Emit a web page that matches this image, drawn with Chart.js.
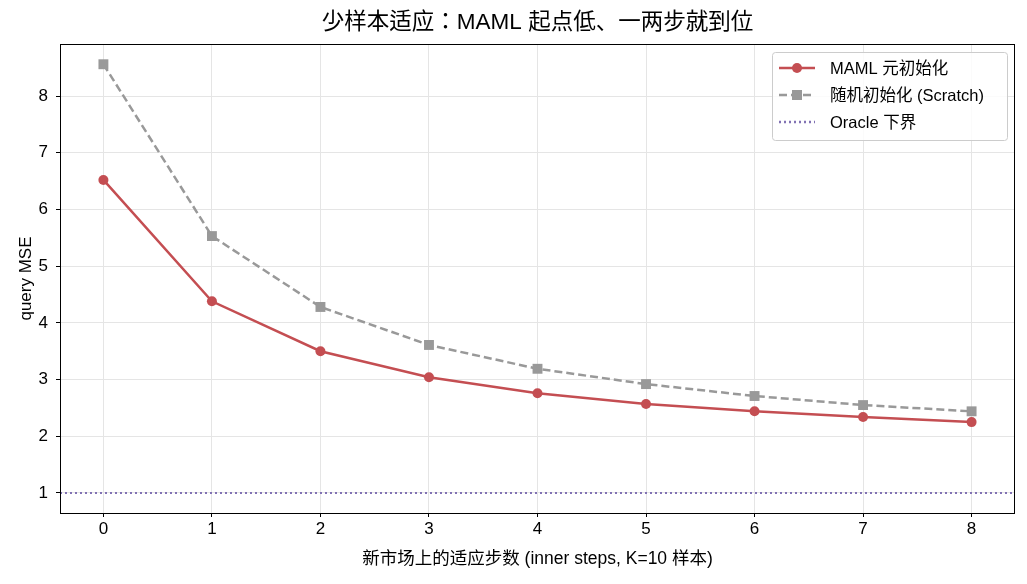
<!DOCTYPE html>
<html>
<head>
<meta charset="utf-8">
<script src="https://cdn.jsdelivr.net/npm/chart.js@4.4.0/dist/chart.umd.min.js"></script>
<style>
  html, body { margin: 0; padding: 0; background: #fff; }
  #wrap { width: 1027px; height: 584px; }
</style>
</head>
<body>
<div id="wrap"><canvas id="chart" width="1027" height="584"></canvas></div>
<script>
const steps = [0, 1, 2, 3, 4, 5, 6, 7, 8];
const mamlMse = [6.52, 4.38, 3.50, 3.04, 2.76, 2.57, 2.44, 2.34, 2.25];
const scratchMse = [8.56, 5.53, 4.28, 3.61, 3.19, 2.92, 2.71, 2.55, 2.44];
const oracleMse = 1.0;
const xTicks = [0, 1, 2, 3, 4, 5, 6, 7, 8];
const yTicks = [1, 2, 3, 4, 5, 6, 7, 8];
const chartTitle = '少样本适应：MAML 起点低、一两步就到位';

const FONT = '"Liberation Sans", Arial, "Noto Sans CJK SC", sans-serif';
const TITLE_FONT = '"Liberation Sans", Arial, "Noto Sans CJK JP", sans-serif';
const RED = '#c44e52';
const GRAY = '#999999';
const PURPLE = '#8172b3';

const legendItems = [
    { label: 'MAML 元初始化', color: RED, dash: [], marker: 'circle' },
    { label: '随机初始化 (Scratch)', color: GRAY, dash: [8, 4], marker: 'rect' },
    { label: 'Oracle 下界', color: PURPLE, dash: [2, 3], marker: null }
];

// title centred over the axes, frame around plot, legend box in the upper right
const framePlugin = {
    id: 'frame',
    afterDraw(chart) {
        const { ctx, chartArea: a } = chart;
        ctx.save();
        ctx.fillStyle = '#000';
        ctx.font = '22.5px ' + TITLE_FONT;
        ctx.textAlign = 'center';
        ctx.textBaseline = 'middle';
        ctx.fillText(chartTitle, (a.left + a.right) / 2, 23);
        ctx.textAlign = 'left';

        ctx.strokeStyle = '#000';
        ctx.lineWidth = 1;
        ctx.strokeRect(Math.round(a.left) + 0.5, Math.round(a.top) + 0.5,
            Math.round(a.right - a.left) - 1, Math.round(a.bottom - a.top));

        const bw = 235, bh = 88;
        const bx = a.right - 8 - bw, by = a.top + 8;
        ctx.fillStyle = 'rgba(255,255,255,0.85)';
        ctx.strokeStyle = '#cccccc';
        ctx.beginPath();
        ctx.roundRect(bx + 0.5, by + 0.5, bw, bh, 3);
        ctx.fill();
        ctx.stroke();

        ctx.font = '16.5px ' + FONT;
        legendItems.forEach((it, i) => {
            const y = by + 16 + i * 27;
            const x0 = bx + 7, x1 = bx + 43;
            ctx.strokeStyle = it.color;
            ctx.lineWidth = 2.5;
            ctx.setLineDash(it.dash);
            ctx.beginPath();
            ctx.moveTo(x0, y);
            ctx.lineTo(x1, y);
            ctx.stroke();
            ctx.setLineDash([]);
            ctx.fillStyle = it.color;
            if (it.marker === 'circle') {
                ctx.beginPath();
                ctx.arc((x0 + x1) / 2, y, 5, 0, Math.PI * 2);
                ctx.fill();
            } else if (it.marker === 'rect') {
                ctx.fillRect((x0 + x1) / 2 - 5, y - 5, 10, 10);
            }
            ctx.fillStyle = '#000';
            ctx.fillText(it.label, bx + 58, y + 1);
        });
        ctx.restore();
    }
};

new Chart(document.getElementById('chart'), {
    type: 'line',
    data: {
        datasets: [
            {
                label: 'Oracle 下界',
                data: [{ x: -0.4, y: oracleMse }, { x: 8.4, y: oracleMse }],
                borderColor: PURPLE,
                borderWidth: 2,
                borderDash: [2, 3],
                pointRadius: 0
            },
            {
                label: '随机初始化 (Scratch)',
                data: steps.map((s, i) => ({ x: s, y: scratchMse[i] })),
                borderColor: GRAY,
                backgroundColor: GRAY,
                borderWidth: 2.5,
                borderDash: [8, 4],
                pointStyle: 'rect',
                pointRadius: 7,
                pointBorderWidth: 0
            },
            {
                label: 'MAML 元初始化',
                data: steps.map((s, i) => ({ x: s, y: mamlMse[i] })),
                borderColor: RED,
                backgroundColor: RED,
                borderWidth: 2.5,
                pointStyle: 'circle',
                pointRadius: 5,
                pointBorderWidth: 0
            }
        ]
    },
    options: {
        responsive: false,
        animation: false,
        layout: { padding: { left: 12, right: 12, top: 44, bottom: 10 } },
        plugins: {
            legend: { display: false },
            tooltip: { enabled: false },
            title: { display: false }
        },
        scales: {
            x: {
                type: 'linear',
                min: -0.4,
                max: 8.4,
                afterBuildTicks: s => { s.ticks = xTicks.map(v => ({ value: v })); },
                afterFit: s => { s.height = 61; },
                grid: { color: '#e5e5e5', tickColor: '#000', tickLength: 4, drawTicks: true },
                border: { display: false },
                ticks: { color: '#000', font: { family: FONT, size: 17 }, padding: 2, maxRotation: 0 },
                title: {
                    display: true,
                    text: '新市场上的适应步数 (inner steps, K=10 样本)',
                    color: '#000',
                    font: { family: FONT, size: 17.5 },
                    padding: { top: 4 }
                }
            },
            y: {
                type: 'linear',
                min: 0.647,
                max: 8.917,
                afterBuildTicks: s => { s.ticks = yTicks.map(v => ({ value: v })); },
                afterFit: s => { s.width = 48; },
                grid: { color: '#e5e5e5', tickColor: '#000', tickLength: 4, drawTicks: true },
                border: { display: false },
                ticks: { color: '#000', font: { family: FONT, size: 17 }, padding: 8 },
                title: {
                    display: true,
                    text: 'query MSE',
                    color: '#000',
                    font: { family: FONT, size: 17 },
                    padding: { bottom: 0 }
                }
            }
        }
    },
    plugins: [framePlugin]
});
</script>
</body>
</html>
